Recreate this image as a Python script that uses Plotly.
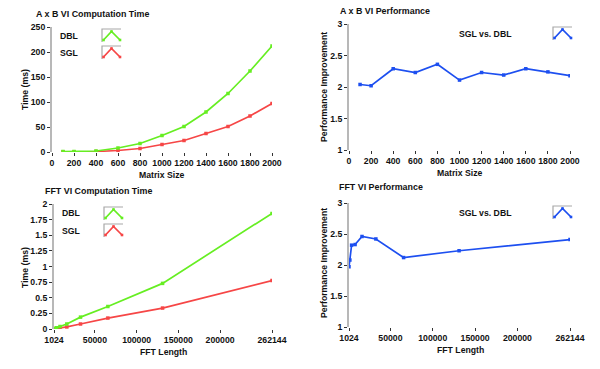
import plotly.graph_objects as go

# ---------------- data ----------------
matrix_size = [100, 200, 400, 600, 800, 1000, 1200, 1400, 1600, 1800, 2000]
ab_dbl_ms = [1, 1, 2, 8, 17, 33, 51, 80, 117, 162, 212]
ab_sgl_ms = [0.5, 0.5, 1, 3, 7, 15, 23, 37, 51, 72, 97]
ab_perf = [2.04, 2.02, 2.29, 2.23, 2.36, 2.11, 2.23, 2.19, 2.29, 2.24, 2.18]

fft_len = [1024, 2048, 4096, 8192, 16384, 32768, 65536, 131072, 262144]
fft_dbl_ms = [0.005, 0.01, 0.02, 0.04, 0.08, 0.19, 0.36, 0.73, 1.85]
fft_sgl_ms = [0.003, 0.005, 0.009, 0.017, 0.033, 0.08, 0.175, 0.335, 0.775]
fft_perf = [1.97, 2.08, 2.32, 2.33, 2.46, 2.42, 2.12, 2.23, 2.41]

matrix_ticks = [0, 200, 400, 600, 800, 1000, 1200, 1400, 1600, 1800, 2000]
fft_ticks = [1024, 50000, 100000, 150000, 200000, 262144]

GREEN = "#66ee22"
RED = "#f64646"
BLUE = "#1d4ff0"
W, H = 600, 369
FONT = "Liberation Sans"
TXT = "#111111"

def px(x):
    return x / W

def py(y):
    return 1 - y / H

fig = go.Figure()

def line(x, y, color, xa, ya):
    fig.add_trace(go.Scatter(
        x=x, y=y, xaxis=xa, yaxis=ya, mode="lines+markers",
        line=dict(color=color, width=1.7),
        marker=dict(symbol="square", size=3.5, color=color),
        showlegend=False, hoverinfo="skip"))

line(matrix_size, ab_sgl_ms, RED, "x", "y")
line(matrix_size, ab_dbl_ms, GREEN, "x", "y")
line(matrix_size, ab_perf, BLUE, "x2", "y2")
line(fft_len, fft_sgl_ms, RED, "x3", "y3")
line(fft_len, fft_dbl_ms, GREEN, "x3", "y3")
line(fft_len, fft_perf, BLUE, "x4", "y4")

tickfont = dict(family=FONT, size=8.7, color=TXT, weight="bold")

def xaxis(dom, anchor, rng, tickvals):
    return dict(domain=dom, anchor=anchor, range=rng, tickvals=tickvals,
                ticktext=[str(v) for v in tickvals], tickangle=0, automargin=False,
                showline=False, showgrid=False, zeroline=False,
                ticks="outside", ticklen=3, tickcolor="#333", tickwidth=1,
                tickfont=tickfont)

def yaxis(dom, anchor, rng, dtick):
    return dict(domain=dom, anchor=anchor, range=rng, dtick=dtick, automargin=False,
                showline=True, linecolor="#b8b8b8", linewidth=2,
                showgrid=False, zeroline=False,
                ticks="outside", ticklen=3, tickcolor="#333", tickwidth=1,
                tickfont=tickfont)

xd1 = [px(52), px(272)]
xd2 = [px(349), px(570)]
xd3 = [px(54), px(272)]
yd1 = [py(152), py(27)]
yd2 = [py(150), py(24)]
yd3 = [py(329), py(204)]
yd4 = [py(327), py(203)]

fig.update_layout(
    width=W, height=H,
    margin=dict(l=0, r=0, t=0, b=0, pad=0, autoexpand=False),
    paper_bgcolor="white", plot_bgcolor="white",
    font=dict(family=FONT, color=TXT),
    xaxis=xaxis(xd1, "y", [0, 2000], matrix_ticks),
    yaxis=yaxis(yd1, "x", [0, 250], 50),
    xaxis2=xaxis(xd2, "y2", [0, 2000], matrix_ticks),
    yaxis2=yaxis(yd2, "x2", [1, 3], 0.5),
    xaxis3=xaxis(xd3, "y3", [1024, 262144], fft_ticks),
    yaxis3=yaxis(yd3, "x3", [0, 2], 0.25),
    xaxis4=xaxis(xd2, "y4", [1024, 262144], fft_ticks),
    yaxis4=yaxis(yd4, "x4", [1, 3], 0.5),
)

annotations = []
shapes = []

def text(x, y, s, size=8.7, anchor="left", angle=0):
    annotations.append(dict(x=px(x), y=py(y), xref="paper", yref="paper",
                            text=f"<b>{s}</b>", showarrow=False, xanchor=anchor, yanchor="middle",
                            textangle=angle,
                            font=dict(family=FONT, size=size, color=TXT)))

# panel titles
text(34, 14, "A x B VI Computation Time", size=8.9)
text(338, 11, "A x B VI Performance", size=8.9)
text(43, 191, "FFT VI Computation Time", size=8.9)
text(337, 187, "FFT VI Performance", size=8.9)

# axis titles
text(162, 175, "Matrix Size", anchor="center")
text(460, 173, "Matrix Size", anchor="center")
text(163, 352, "FFT Length", anchor="center")
text(460, 350, "FFT Length", anchor="center")
text(25, 90, "Time (ms)", anchor="center", angle=-90)
text(25, 268, "Time (ms)", anchor="center", angle=-90)
text(324, 87, "Performance Improvement", anchor="center", angle=-90)
text(324, 263, "Performance Improvement", anchor="center", angle=-90)

def icon(x0, y0, w, h, color):
    # grey top & left border
    shapes.append(dict(type="path", xref="paper", yref="paper",
                       path=f"M {px(x0)},{py(y0 + h)} L {px(x0)},{py(y0)} L {px(x0 + w)},{py(y0)}",
                       line=dict(color="#a8a8a8", width=1.2)))
    # caret line
    shapes.append(dict(type="path", xref="paper", yref="paper",
                       path=f"M {px(x0 + 1.5)},{py(y0 + h - 2)} L {px(x0 + w / 2)},{py(y0 + 2.5)} L {px(x0 + w - 1)},{py(y0 + h - 2)}",
                       line=dict(color=color, width=1.7)))
    for (mx, my) in [(x0 + 1.5, y0 + h - 2), (x0 + w / 2, y0 + 2.5), (x0 + w - 1, y0 + h - 2)]:
        shapes.append(dict(type="rect", xref="paper", yref="paper",
                           x0=px(mx - 1.3), x1=px(mx + 1.3), y0=py(my - 1.3), y1=py(my + 1.3),
                           fillcolor=color, line=dict(width=0)))

# legends
text(58, 36, "DBL")
icon(102, 29, 19, 13, GREEN)
text(58, 53, "SGL")
icon(102, 46, 19, 13, RED)
text(457, 34, "SGL vs. DBL")
icon(553, 27, 19, 13, BLUE)

text(60, 213, "DBL")
icon(104, 207, 19, 13, GREEN)
text(60, 231, "SGL")
icon(104, 224, 19, 13, RED)
text(457, 213, "SGL vs. DBL")
icon(553, 206, 19, 13, BLUE)

fig.update_layout(annotations=annotations, shapes=shapes)

fig.write_html("out.html", config={"displayModeBar": False},
               post_script="document.body.style.margin='0';")
